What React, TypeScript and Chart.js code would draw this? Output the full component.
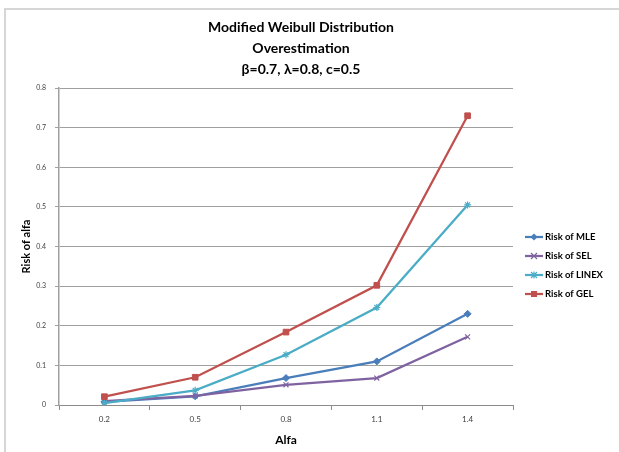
import React, { useEffect, useRef } from 'react';
import { Chart, registerables } from 'chart.js';

Chart.register(...registerables);

const categories = ['0.2', '0.5', '0.8', '1.1', '1.4'];
const riskMLE = [0.008, 0.022, 0.068, 0.11, 0.23];
const riskSEL = [0.01, 0.023, 0.051, 0.068, 0.172];
const riskLINEX = [0.005, 0.037, 0.127, 0.246, 0.505];
const riskGEL = [0.021, 0.07, 0.184, 0.302, 0.73];
const seriesNames = ['Risk of MLE', 'Risk of SEL', 'Risk of LINEX', 'Risk of GEL'];
const seriesColors = ['#4a7ebb', '#7f63a1', '#4bacc6', '#c0504d'];
const seriesMarkers = ['rectRot', 'crossRot', 'star', 'rect'];
const titleLines = ['Modified Weibull Distribution', 'Overestimation', 'β=0.7, λ=0.8, c=0.5'];
const yMin = 0;
const yMax = 0.8;
const yStep = 0.1;
const xTitle = 'Alfa';
const yTitle = 'Risk of alfa';

const FONT = 'Lato, "Liberation Sans", sans-serif';

function drawMarker(ctx: CanvasRenderingContext2D, style: string, x: number, y: number, r: number, color: string) {
  ctx.save();
  ctx.fillStyle = color;
  ctx.strokeStyle = color;
  ctx.lineWidth = 1.2;
  ctx.beginPath();
  if (style === 'rect') {
    ctx.fillRect(x - r, y - r, 2 * r, 2 * r);
  } else if (style === 'rectRot') {
    ctx.moveTo(x, y - r * 1.2);
    ctx.lineTo(x + r * 1.2, y);
    ctx.lineTo(x, y + r * 1.2);
    ctx.lineTo(x - r * 1.2, y);
    ctx.closePath();
    ctx.fill();
  } else if (style === 'crossRot') {
    ctx.moveTo(x - r, y - r);
    ctx.lineTo(x + r, y + r);
    ctx.moveTo(x - r, y + r);
    ctx.lineTo(x + r, y - r);
    ctx.stroke();
  } else if (style === 'star') {
    ctx.moveTo(x - r, y - r);
    ctx.lineTo(x + r, y + r);
    ctx.moveTo(x - r, y + r);
    ctx.lineTo(x + r, y - r);
    ctx.moveTo(x, y - r * 1.2);
    ctx.lineTo(x, y + r * 1.2);
    ctx.stroke();
  }
  ctx.restore();
}

const titlePlugin = {
  id: 'customTitle',
  afterDraw(chart: any) {
    const ctx = chart.ctx as CanvasRenderingContext2D;
    ctx.save();
    ctx.fillStyle = '#000000';
    ctx.textAlign = 'center';
    ctx.textBaseline = 'middle';
    ctx.font = 'bold 14px ' + FONT;
    const ys = [27, 48, 69];
    titleLines.forEach((t, i) => ctx.fillText(t, 301, ys[i]));
    ctx.restore();
  },
};

const legendPlugin = {
  id: 'customLegend',
  afterDraw(chart: any) {
    const ctx = chart.ctx as CanvasRenderingContext2D;
    ctx.save();
    ctx.font = 'bold 9.5px ' + FONT;
    ctx.textBaseline = 'middle';
    ctx.textAlign = 'left';
    seriesNames.forEach((name, i) => {
      const y = 237 + i * 19;
      ctx.strokeStyle = seriesColors[i];
      ctx.lineWidth = 2.25;
      ctx.beginPath();
      ctx.moveTo(525, y);
      ctx.lineTo(543, y);
      ctx.stroke();
      drawMarker(ctx, seriesMarkers[i], 534, y, 3, seriesColors[i]);
      ctx.fillStyle = '#000000';
      ctx.fillText(name, 545, y);
    });
    ctx.restore();
  },
};

export default function App() {
  const ref = useRef<HTMLCanvasElement | null>(null);
  useEffect(() => {
    if (!ref.current) return;
    const values = [riskMLE, riskSEL, riskLINEX, riskGEL];
    const chart = new Chart(ref.current, {
      type: 'line',
      data: {
        labels: categories,
        datasets: values.map((v, i) => ({
          label: seriesNames[i],
          data: v,
          borderColor: seriesColors[i],
          backgroundColor: seriesColors[i],
          borderWidth: 2.25,
          pointStyle: seriesMarkers[i] as any,
          pointRadius: i === 3 ? 4 : 3.5,
          pointBorderWidth: i === 1 || i === 2 ? 1.2 : 1,
          tension: 0,
          fill: false,
          order: 4 - i,
        })),
      },
      options: {
        animation: false,
        responsive: false,
        layout: { padding: { top: 88, right: 106, left: 0, bottom: 0 } },
        plugins: {
          legend: { display: false },
          title: { display: false },
          tooltip: { enabled: false },
        },
        scales: {
          x: {
            type: 'category',
            offset: true,
            grid: {
              offset: true,
              drawOnChartArea: false,
              drawTicks: true,
              tickLength: 5,
              color: '#8c8c8c',
            },
            border: { display: true, color: '#8c8c8c', width: 1 },
            ticks: {
              font: { family: FONT, size: 8 },
              color: '#404040',
              padding: 5,
              maxRotation: 0,
            },
            title: {
              display: true,
              text: xTitle,
              font: { family: FONT, size: 12, weight: 'bold' },
              color: '#000000',
              padding: { top: 0, bottom: 5 },
            },
            afterFit: (s: any) => {
              s.height = 47;
            },
          },
          y: {
            min: yMin,
            max: yMax,
            ticks: {
              stepSize: yStep,
              font: { family: FONT, size: 7 },
              color: '#404040',
              padding: 9,
              callback: (v: any) => (Number(v) === 0 ? '0' : Number(v).toFixed(1)),
            },
            grid: {
              color: '#a0a0a0',
              lineWidth: 1,
              tickLength: 4,
            },
            border: { display: true, color: '#a0a0a0', width: 1.5 },
            title: {
              display: true,
              text: yTitle,
              font: { family: FONT, size: 11, weight: 'bold' },
              color: '#000000',
              padding: { top: 20, bottom: 0 },
            },
            afterFit: (s: any) => {
              s.width = 59;
            },
          },
        },
      },
      plugins: [titlePlugin, legendPlugin],
    });
    return () => chart.destroy();
  }, []);

  return (
    <div style={{ position: 'fixed', left: 0, top: 0, width: 619, height: 452, overflow: 'hidden', background: '#ffffff' }}>
      <div
        style={{
          position: 'absolute',
          left: 4,
          top: 8,
          width: 700,
          height: 600,
          borderLeft: '2px solid #d6d6d6',
          borderTop: '2px solid #d6d6d6',
        }}
      />
      <canvas ref={ref} width={619} height={452} style={{ position: 'absolute', left: 0, top: 0 }} />
    </div>
  );
}
